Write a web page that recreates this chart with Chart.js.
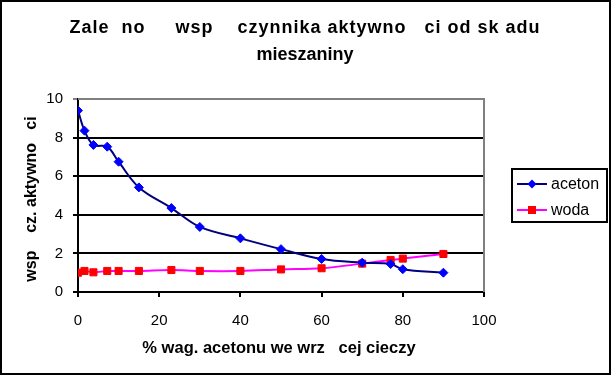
<!DOCTYPE html>
<html>
<head>
<meta charset="utf-8">
<script src="https://cdn.jsdelivr.net/npm/chart.js@4"></script>
<style>
  html, body { margin: 0; padding: 0; background: #fff; }
  #wrap { width: 612px; height: 375px; }
</style>
</head>
<body>
<div id="wrap"><canvas id="wykres" width="612" height="375"></canvas></div>
<script>
// dane
const procentAcetonu = [0, 1.6, 3.8, 7.2, 10, 15, 23, 30, 40, 50, 60, 70, 77, 80, 90];
const aceton = [9.4, 8.36, 7.62, 7.53, 6.75, 5.42, 4.35, 3.37, 2.78, 2.22, 1.71, 1.52, 1.45, 1.18, 1.0];
const woda = [1.0, 1.09, 1.02, 1.09, 1.09, 1.09, 1.14, 1.09, 1.09, 1.17, 1.23, 1.47, 1.66, 1.73, 1.97];
const xTicks = [0, 20, 40, 60, 80, 100];
const yTicks = [0, 2, 4, 6, 8, 10];
const serie = ["aceton", "woda"];

const tytul = ["Zale  no     wsp    czynnika aktywno   ci od sk adu", "mieszaniny"];
const tytulX = "% wag. acetonu we wrz   cej cieczy";
const tytulY = "wsp    cz. aktywno   ci";
const FONT = "'Liberation Sans', Arial, sans-serif";

const punkty = (ys) => procentAcetonu.map((x, i) => ({ x: x, y: ys[i] }));

// tytul, opisy osi, ramka i legenda rysowane recznie (jak w Excelu)
const dodatki = {
  id: "dodatki",
  afterDraw(chart) {
    const ctx = chart.ctx;
    const a = chart.chartArea;
    ctx.save();
    // szara ramka obszaru kreslenia (gora i prawa strona)
    ctx.strokeStyle = "#808080";
    ctx.lineWidth = 2;
    ctx.beginPath();
    ctx.moveTo(a.left, a.top);
    ctx.lineTo(a.right, a.top);
    ctx.lineTo(a.right, a.bottom);
    ctx.stroke();

    ctx.fillStyle = "#000";
    ctx.textAlign = "center";
    ctx.textBaseline = "alphabetic";
    ctx.font = "bold 18px " + FONT;
    ctx.letterSpacing = "1px";
    ctx.fillText(tytul[0], 305, 33);
    ctx.letterSpacing = "0px";
    ctx.fillText(tytul[1], 305, 60);

    ctx.font = "bold 16.5px " + FONT;
    ctx.fillText(tytulX, 279, 353);
    ctx.font = "bold 16px " + FONT;
    ctx.save();
    ctx.translate(36, 199);
    ctx.rotate(-Math.PI / 2);
    ctx.fillText(tytulY, 0, 0);
    ctx.restore();

    // legenda
    ctx.strokeStyle = "#000";
    ctx.lineWidth = 2;
    ctx.strokeRect(512, 169, 95, 53);
    ctx.font = "16px " + FONT;
    ctx.textAlign = "left";
    ctx.textBaseline = "middle";
    chart.data.datasets.forEach((ds, i) => {
      const y = 184 + i * 26;
      ctx.strokeStyle = ds.borderColor;
      ctx.lineWidth = 2;
      ctx.beginPath();
      ctx.moveTo(517, y);
      ctx.lineTo(547, y);
      ctx.stroke();
      ctx.fillStyle = ds.pointBackgroundColor;
      ctx.beginPath();
      if (ds.pointStyle === "rectRot") {
        ctx.moveTo(532, y - 4.5);
        ctx.lineTo(536.5, y);
        ctx.lineTo(532, y + 4.5);
        ctx.lineTo(527.5, y);
        ctx.closePath();
        ctx.fill();
      } else {
        ctx.fillRect(528, y - 4, 8, 8);
      }
      ctx.fillStyle = "#000";
      ctx.fillText(ds.label, 551, y + 1);
    });

    // ramka calego wykresu
    ctx.strokeStyle = "#000";
    ctx.lineWidth = 2;
    ctx.strokeRect(1, 1, 609, 373);
    ctx.restore();
  }
};

new Chart(document.getElementById("wykres"), {
  type: "scatter",
  data: {
    datasets: [
      {
        label: serie[0],
        data: punkty(aceton),
        showLine: true,
        tension: 0.35,
        borderColor: "#000080",
        borderWidth: 2,
        pointStyle: "rectRot",
        pointRadius: 4.5,
        pointBackgroundColor: "#0000FF",
        pointBorderColor: "#0000FF",
        pointBorderWidth: 1
      },
      {
        label: serie[1],
        data: punkty(woda),
        showLine: true,
        tension: 0.35,
        borderColor: "#FF00FF",
        borderWidth: 2,
        pointStyle: "rect",
        pointRadius: 5,
        pointBackgroundColor: "#FF0000",
        pointBorderColor: "#FF0000",
        pointBorderWidth: 1
      }
    ]
  },
  options: {
    responsive: false,
    animation: false,
    layout: { padding: { left: 0, right: 128, top: 99, bottom: 0 } },
    plugins: {
      legend: { display: false },
      title: { display: false },
      tooltip: { enabled: false }
    },
    scales: {
      x: {
        type: "linear",
        min: 0,
        max: 100,
        afterBuildTicks: (s) => { s.ticks = xTicks.map((v) => ({ value: v })); },
        afterFit: (s) => { s.height = 83; },
        ticks: { color: "#000", font: { family: FONT, size: 15 }, padding: 15, maxRotation: 0 },
        grid: { drawOnChartArea: false, drawTicks: true, tickLength: 5, color: "#000", lineWidth: 2 },
        border: { color: "#000", width: 2 }
      },
      y: {
        min: 0,
        max: 10,
        afterBuildTicks: (s) => { s.ticks = yTicks.map((v) => ({ value: v })); },
        afterFit: (s) => { s.width = 78; },
        ticks: { color: "#000", font: { family: FONT, size: 15 }, padding: 10 },
        grid: {
          drawTicks: true,
          tickLength: 5,
          color: (c) => (c.tick && c.tick.value === 10 ? "#808080" : "#000"),
          lineWidth: 2
        },
        border: { color: "#000", width: 2 }
      }
    }
  },
  plugins: [dodatki]
});
</script>
</body>
</html>
